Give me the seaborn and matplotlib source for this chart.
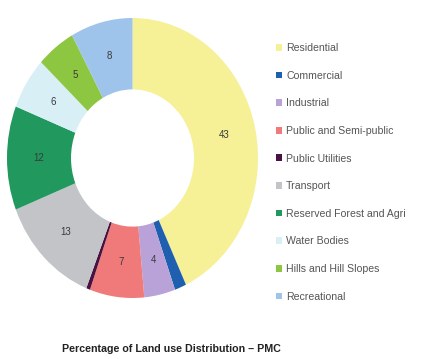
import matplotlib
matplotlib.use("Agg")
import matplotlib.pyplot as plt
import seaborn as sns
import numpy as np

# arazi kullanim verisi (yuzde)
categories = ["Residential", "Commercial", "Industrial", "Public and Semi-public",
              "Public Utilities", "Transport", "Reserved Forest and Agri",
              "Water Bodies", "Hills and Hill Slopes", "Recreational"]
values = [43, 1.5, 4, 7, 0.5, 13, 12, 6, 5, 8]
colors = ["#F6F096", "#1F5FAF", "#B9A2D8", "#F07A7A", "#4A1240",
          "#C3C4C8", "#21985E", "#D8EFF6", "#8DC641", "#9EC4EC"]
title = "Percentage of Land use Distribution \u2013 PMC"

sns.set_theme(style="white")
plt.rcParams["font.family"] = ["Liberation Sans", "DejaVu Sans"]

fig = plt.figure(figsize=(4.24, 3.59), dpi=100)
ax = fig.add_axes([7 / 424, 1 - 298 / 359, 251 / 424, 280 / 359])

wedges, _ = ax.pie(values, colors=sns.color_palette(colors), startangle=90,
                   counterclock=False, radius=1.0,
                   wedgeprops=dict(width=0.51, edgecolor="none"))

# etiketler: halkanin ortasina
for w, v in zip(wedges, values):
    if v < 3:
        continue
    ang = np.deg2rad((w.theta1 + w.theta2) / 2)
    r = 0.75
    ax.text(r * np.cos(ang), r * np.sin(ang), f"{v:.0f}", ha="center", va="center",
            fontsize=7, color="#3a3a3a")

ax.set_aspect("auto")
ax.set_xlim(-1, 1)
ax.set_ylim(-1, 1)
ax.axis("off")

fig.legend(wedges, categories, loc="upper left", bbox_to_anchor=(276 / 424, 1 - 43 / 359),
           frameon=False, fontsize=7.6, labelcolor="#555555",
           handlelength=0.6, handleheight=0.6, handletextpad=0.35,
           labelspacing=1.67, borderpad=0, borderaxespad=0)

fig.text(62 / 424, 1 - 349 / 359, title, ha="left", va="center",
         fontsize=7.7, fontweight="bold", color="#222222")

fig.savefig("out.png", dpi=100)
